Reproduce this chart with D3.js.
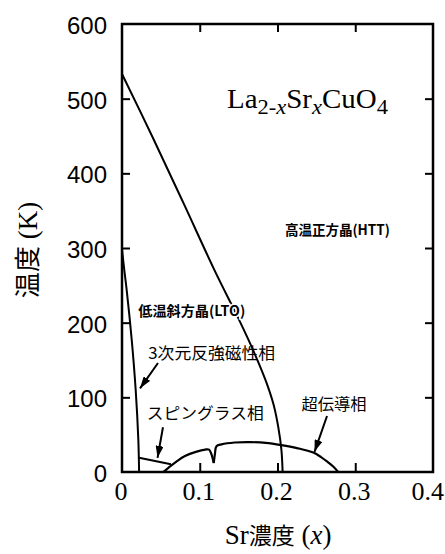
<!DOCTYPE html>
<html><head><meta charset="utf-8">
<script src="https://cdn.jsdelivr.net/npm/d3@7"></script>
<style>
html,body{margin:0;padding:0;background:#fff;}
svg{display:block;}
</style></head>
<body>
<svg id="chart" width="445" height="554"></svg>
<script>
// ---- data ----
const xTicks = [0, 0.1, 0.2, 0.3, 0.4];
const xTickLabels = ["0", "0.1", "0.2", "0.3", "0.4"];
const yTicks = [0, 100, 200, 300, 400, 500, 600];
const yTickLabels = ["0", "100", "200", "300", "400", "500", "600"];
// HTT <-> LTO structural transition
const httLto = [[0,533],[0.04,447],[0.08,358],[0.12,268],[0.15,205],[0.17,160],[0.185,122],[0.195,90],[0.201,60],[0.205,30],[0.2066,0]];
// 3D antiferromagnetic Neel temperature
const neel = [[0,298],[0.003,270],[0.006,244],[0.0125,177],[0.0176,110],[0.021,43],[0.022,0]];
// spin glass boundary
const spinGlass = [[0.0219,19],[0.063,10.3]];
// superconducting dome (left part up to dip, right part after dip)
const scLeft = [[0.053,0],[0.06,6],[0.07,14],[0.081,21.5],[0.095,27],[0.107,30],[0.112,30],[0.115,24],[0.118,12]];
const scRight = [[0.118,12],[0.1195,24],[0.1215,34.5],[0.128,37],[0.145,39.5],[0.165,40],[0.185,39],[0.205,36],[0.225,32],[0.246,26],[0.256,20],[0.265,13],[0.272,7],[0.278,0]];
// annotation arrows [tail, tip]
const arrows = [
  [[0.0463,146],[0.0232,112]],
  [[0.0527,60],[0.0457,19]],
  [[0.2637,75],[0.2476,27]]
];
// labels
const phaseLabels = [
  {t:"高温正方晶(HTT)", x:0.2096, y:324, size:14, w:105, weight:600},
  {t:"低温斜方晶(LTO)", x:0.021, y:215.5, size:14, w:107, weight:600},
  {t:"3次元反強磁性相", x:0.0338, y:160, size:16, w:127, weight:400},
  {t:"スピングラス相", x:0.0318, y:79, size:16, w:117, weight:400},
  {t:"超伝導相", x:0.231, y:91, size:16, w:65, weight:400}
];
const formula = {x:0.135, y:487.5, w:161};

// ---- chart ----
const svg = d3.select("#chart");
const x = d3.scaleLinear().domain([0,0.4]).range([122,433]);
const y = d3.scaleLinear().domain([0,600]).range([472,24]);
const serif = "'Liberation Serif','Times New Roman',serif";
const sans = "'Liberation Sans',Arial,sans-serif";
const cjk = "'Noto Sans CJK JP','Noto Sans',sans-serif";

svg.append("defs").append("marker")
  .attr("id","ah").attr("viewBox","0 0 12 8").attr("refX",12).attr("refY",4)
  .attr("markerWidth",12).attr("markerHeight",8).attr("markerUnits","userSpaceOnUse")
  .attr("orient","auto")
  .append("path").attr("d","M0,0 L12,4 L0,8 Z").attr("fill","#000");

const line = d3.line().x(d=>x(d[0])).y(d=>y(d[1])).curve(d3.curveCatmullRom.alpha(0.5));
const lineLin = d3.line().x(d=>x(d[0])).y(d=>y(d[1]));

// curves
svg.append("path").attr("d", line(httLto)).attr("fill","none").attr("stroke","#000").attr("stroke-width",2);
svg.append("path").attr("d", line(neel)).attr("fill","none").attr("stroke","#000").attr("stroke-width",2);
svg.append("path").attr("d", lineLin(spinGlass)).attr("fill","none").attr("stroke","#000").attr("stroke-width",2);
svg.append("path").attr("d", line(scLeft)).attr("fill","none").attr("stroke","#000").attr("stroke-width",2.2);
svg.append("path").attr("d", line(scRight)).attr("fill","none").attr("stroke","#000").attr("stroke-width",2.2);

// axes (frame with inward ticks on all sides)
const axB = d3.axisBottom(x).tickValues(xTicks.slice(1,4)).tickSize(-9).tickFormat("");
const axT = d3.axisTop(x).tickValues(xTicks.slice(1,4)).tickSize(-8).tickFormat("");
const axL = d3.axisLeft(y).tickValues(yTicks.slice(1,6)).tickSize(-8).tickFormat("");
const axR = d3.axisRight(y).tickValues(yTicks.slice(1,6)).tickSize(-8).tickFormat("");
[[axB,`translate(0,${y(0)})`],[axT,`translate(0,${y(600)})`],[axL,`translate(${x(0)},0)`],[axR,`translate(${x(0.4)},0)`]]
.forEach(([a,t])=>{
  const g = svg.append("g").attr("transform",t).call(a);
  g.select(".domain").remove();
  g.selectAll(".tick line").attr("stroke","#000").attr("stroke-width",2);
});
svg.append("rect").attr("x",x(0)).attr("y",y(600)).attr("width",x(0.4)-x(0)).attr("height",y(0)-y(600))
  .attr("fill","none").attr("stroke","#000").attr("stroke-width",2.5);

// tick labels
svg.append("g").selectAll("text").data(yTicks).join("text")
  .attr("x", x(0)-15).attr("y", d=>y(d)+10)
  .attr("text-anchor","end").attr("font-family",sans).attr("font-size",24)
  .text((d,i)=>yTickLabels[i]);
svg.append("g").selectAll("text").data(xTicks).join("text")
  .attr("x", (d,i)=> i===xTicks.length-1 ? 444 : x(d)-1).attr("y", 500)
  .attr("text-anchor",(d,i)=> i===xTicks.length-1 ? "end" : "middle")
  .attr("font-family",serif).attr("font-size",26)
  .text((d,i)=>xTickLabels[i]);

// axis titles
const xt = svg.append("text").attr("x",278).attr("y",544).attr("text-anchor","middle").attr("font-size",27);
xt.append("tspan").attr("font-family",serif).text("Sr");
xt.append("tspan").attr("font-family",cjk).attr("font-size",23).text("濃度");
xt.append("tspan").attr("font-family",serif).text(" (");
xt.append("tspan").attr("font-family",serif).attr("font-style","italic").text("x");
xt.append("tspan").attr("font-family",serif).text(")");

const yt = svg.append("text").attr("transform","translate(37,250) rotate(-90)").attr("text-anchor","middle").attr("font-size",27);
yt.append("tspan").attr("font-family",cjk).attr("font-size",26).text("温度");
yt.append("tspan").attr("font-family",serif).text(" (K)");

// arrows
svg.append("g").selectAll("line").data(arrows).join("line")
  .attr("x1",d=>x(d[0][0])).attr("y1",d=>y(d[0][1]))
  .attr("x2",d=>x(d[1][0])).attr("y2",d=>y(d[1][1]))
  .attr("stroke","#000").attr("stroke-width",2).attr("marker-end","url(#ah)");

// phase labels
function fit(sel, w){
  const n = sel.node(); const L = n.getComputedTextLength();
  const x0 = +sel.attr("x"), y0 = +sel.attr("y");
  sel.attr("transform",`translate(${x0},${y0}) scale(${w/L},1) translate(${-x0},${-y0})`);
}
phaseLabels.forEach(p=>{
  const t = svg.append("text").attr("x",x(p.x)).attr("y",y(p.y)+p.size*0.38)
    .attr("font-family",cjk).attr("font-size",p.size).attr("font-weight",p.weight)
    .attr("stroke","#fff").attr("stroke-width",p.size===14?3:0).attr("paint-order","stroke")
    .text(p.t);
  fit(t,p.w);
});

// formula La2-xSrxCuO4
const f = svg.append("text").attr("x",x(formula.x)).attr("y",y(formula.y))
  .attr("font-family",serif).attr("font-size",27);
f.append("tspan").text("La");
f.append("tspan").attr("font-size",21).attr("dy",6).text("2-");
f.append("tspan").attr("font-size",21).attr("font-style","italic").text("x");
f.append("tspan").attr("dy",-6).text("Sr");
f.append("tspan").attr("font-size",21).attr("font-style","italic").attr("dy",6).text("x");
f.append("tspan").attr("dy",-6).text("CuO");
f.append("tspan").attr("font-size",21).attr("dy",6).text("4");
fit(f, formula.w);
</script>
</body></html>
